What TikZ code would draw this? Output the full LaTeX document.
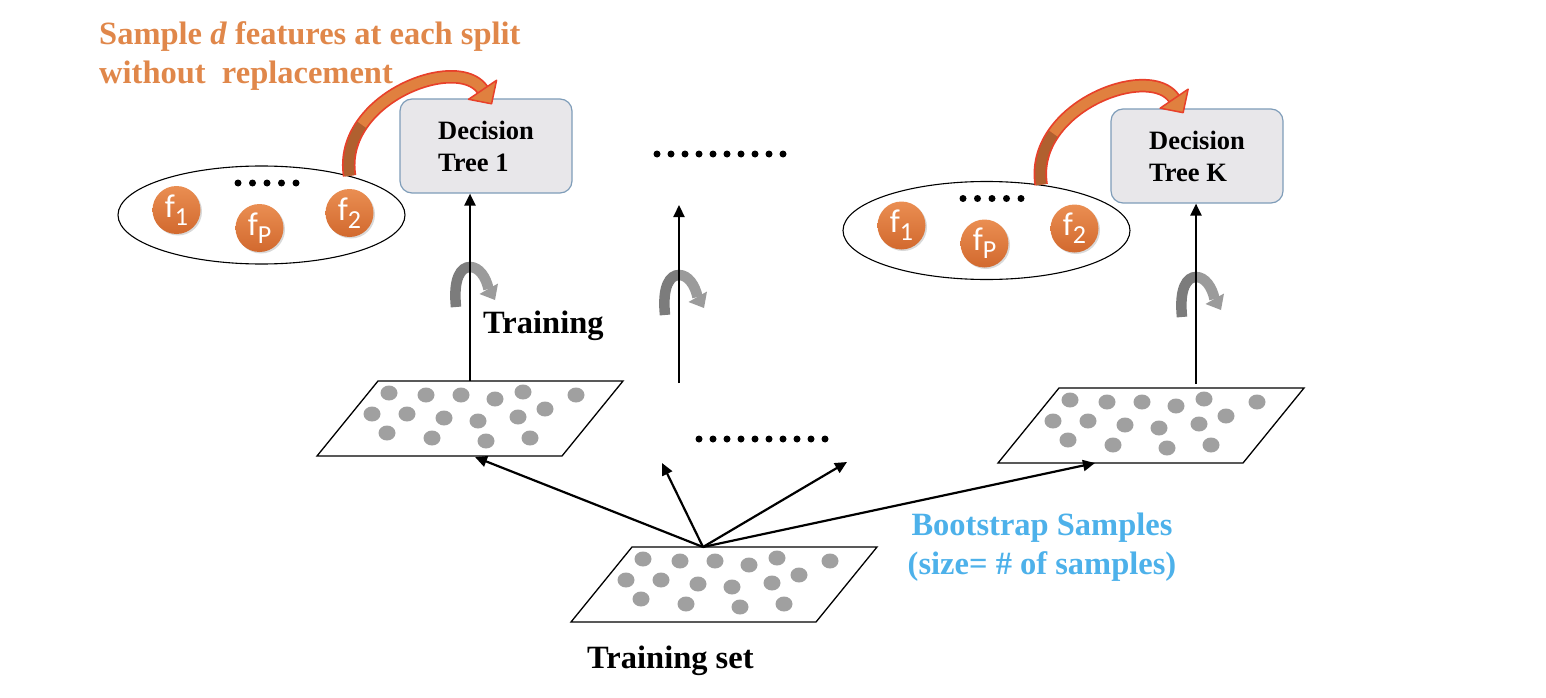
\documentclass[tikz,border=0pt]{standalone}
\usepackage{fontspec}
\setmainfont{Liberation Serif}
\newfontfamily\ballfont{Carlito}
\usetikzlibrary{positioning,arrows.meta,shapes.geometric,shadows}

\definecolor{titleorange}{HTML}{E0874A}
\definecolor{bootblue}{HTML}{4DB1EA}
\definecolor{boxfill}{HTML}{E8E7EA}
\definecolor{boxedge}{HTML}{7F9DB9}
\definecolor{balltop}{HTML}{EA8E52}
\definecolor{ballbot}{HTML}{D2692E}
\definecolor{arrowred}{HTML}{E8402A}
\definecolor{arroworange}{HTML}{E0803F}
\definecolor{arrowbrown}{HTML}{B0602F}
\definecolor{dotgray}{HTML}{A0A0A0}
\definecolor{twistdark}{HTML}{7C7C7C}
\definecolor{twistlight}{HTML}{9B9B9B}

\tikzset{
  treebox/.style={draw=boxedge, fill=boxfill, line width=1.2pt, rounded corners=12pt,
    minimum width=172pt, minimum height=94pt, align=left,
    font=\fontsize{26.5}{32}\selectfont\bfseries},
  featbag/.style={draw, ellipse, line width=1.1pt, minimum width=287pt, minimum height=98pt, inner sep=0pt},
  featball/.style={circle, minimum size=48pt, inner sep=0pt, top color=balltop, bottom color=ballbot,
    text=white, font=\ballfont\fontsize{33}{33}\selectfont,
    drop shadow={opacity=0.3, shadow xshift=1.5pt, shadow yshift=-1.5pt}},
  link/.style={line width=2.2pt, -{Triangle[length=12pt,width=11pt]}},
  bigtext/.style={font=\fontsize{32.5}{39}\selectfont\bfseries, inner sep=0pt},
  pickarrow/.pic={
    \draw[arrowred, line width=13.5pt] (0,0) .. controls (-3,-19.25) and (2.25,-36.56) .. (12.2,-51.1)
      .. controls (42.06,-94.81) and (114.25,-113.75) .. (133,-86);
    \draw[arrowbrown, line width=10pt] (0,0) .. controls (-3,-19.25) and (2.25,-36.56) .. (12.2,-51.1);
    \draw[arroworange, line width=10pt] (12.2,-51.1) .. controls (42.06,-94.81) and (114.25,-113.75) .. (133,-86);
    \filldraw[fill=arroworange, draw=arrowred, line width=1.5pt, line join=round]
      (119,-76.5) -- (142,-72) -- (147,-95.5) -- cycle;
  },
  twist/.pic={
    \draw[twistdark, line width=10.5pt] (-14,42) .. controls (-17,13) and (-9,2) .. (0,2);
    \draw[twistlight, line width=10.5pt] (0,2) .. controls (9,2) and (16,12) .. (18.5,24);
    \fill[twistlight] (9.5,29) -- (25,35) -- (28,18.5) -- cycle;
  }
}
\newcommand{\fsub}[1]{f\raisebox{-8pt}{\fontsize{26}{26}\selectfont #1}}

\begin{document}
\begin{tikzpicture}[x=1pt,y=-1pt]
  \useasboundingbox (0,0) rectangle (1546,698);

  % feature bags with sampled features
  \node[featbag] (feat1) at (261.5,215) {};
  \node[featbag] (featK) at (986.5,230.5) {};
  \foreach \bag in {feat1,featK}{
    \node[featball] (\bag-f1) at ([shift={(-85,-5)}]\bag.center) {\fsub{1}};
    \node[featball] (\bag-fp) at ([shift={(-2,13)}]\bag.center) {\fsub{P}};
    \node[featball] (\bag-f2) at ([shift={(88,-2)}]\bag.center) {\fsub{2}};
    \foreach \i in {0,...,4}
      \fill ([shift={({-23.5+14.5*\i},-32)}]\bag.center) circle (3.5pt);
  }

  % trees
  \node[treebox] (tree1) at (486,146) {Decision\\Tree 1};
  \node[treebox] (treeK) at (1197,156) {Decision\\Tree K};

  % training set and bootstrap samples
  \coordinate (trainset) at (632,547);
  \coordinate (bag1) at (378,381);
  \coordinate (bagK) at (1059,388);
  \foreach \bag in {trainset,bag1,bagK}{
    \draw[line width=1.3pt] (\bag) -- ++(245,0) -- ++(-61,75) -- ++(-245,0) -- cycle;
    \foreach \dx/\dy in {11/12,48/14,83/14,117/18,145/11,198/14,
                         -6/33,29/33,66/37,100/40,140/36,167/28,
                         9/52,54/57,108/60,152/57}
      \fill[dotgray] ([shift={(\dx,\dy)}]\bag) ellipse [x radius=8.5pt, y radius=7.5pt];
  }

  % training twists
  \pic at (470,265) {twist};
  \pic at (679,273) {twist};
  \pic at (1196,275) {twist};

  % training arrows
  \coordinate (up1) at ([shift={(92,0)}]bag1);
  \coordinate (upK) at ([shift={(137,-4)}]bagK);
  \coordinate (midfoot) at (679,383);
  \coordinate (midtop) at (679,205);
  \draw[link] (up1) -- (up1 |- tree1.south);
  \draw[link] (upK) -- (upK |- treeK.south);
  \draw[link] (midfoot) -- (midtop);

  % bootstrap arrows
  \coordinate (root) at ([shift={(71,0)}]trainset);
  \coordinate (midL) at (662,463);
  \coordinate (midR) at (847,462);
  \draw[link] (root) -- ([shift={(97,76)}]bag1);
  \draw[link] (root) -- (midL);
  \draw[link] (root) -- (midR);
  \draw[link] (root) -- ([shift={(36,75)}]bagK);

  % feature sampling arrows
  \pic at (feat1.24) {pickarrow};
  \pic at (featK.40) {pickarrow};

  % more trees
  \foreach \i in {0,...,9} \fill (657+14*\i,154) circle (3.5pt);
  \foreach \i in {0,...,9} \fill (699+14*\i,439) circle (3.5pt);

  % labels
  \node[bigtext, text=titleorange, anchor=north west, align=left] (splitnote) at (99,21)
    {Sample \textit{d} features at each split\\without\ \ replacement};
  \node[bigtext, anchor=base west] (trainlabel) at (483,333) {Training};
  \node[bigtext, anchor=base west] (setlabel) at (587,668) {Training set};
  \node[bigtext, text=bootblue, align=center, anchor=north] (bootnote) at (1042,513)
    {Bootstrap Samples\\(size= \# of samples)};
\end{tikzpicture}
\end{document}
